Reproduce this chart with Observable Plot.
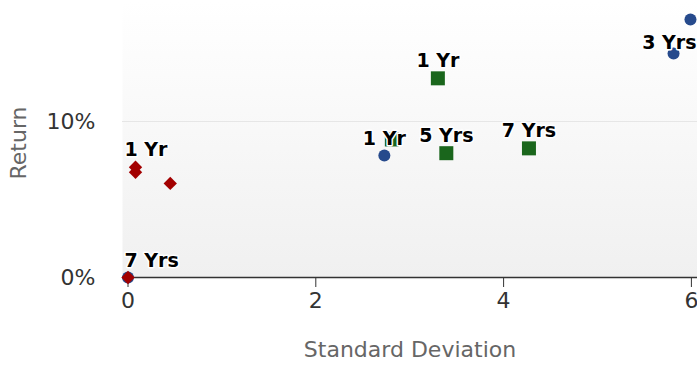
<!DOCTYPE html>
<html><head><meta charset="utf-8">
<script src="https://cdn.jsdelivr.net/npm/d3@7"></script>
<script src="https://cdn.jsdelivr.net/npm/@observablehq/plot@0.6"></script>
<style>body{margin:0;background:#fff}</style>
</head><body><div id="chart"></div>
<script>
// Data (x = standard deviation, y = return in %)
const blueX = [0, 2.73, 5.81, 5.99];
const blueY = [0, 7.82, 14.36, 16.54];
const blueLabels = ["", "1 Yr", "3 Yrs", ""];
const greenX = [2.81, 3.30, 3.39, 4.27];
const greenY = [8.85, 12.77, 7.97, 8.28];
const greenLabels = ["", "1 Yr", "5 Yrs", "7 Yrs"];
const redX = [0.08, 0.08, 0.45, 0];
const redY = [7.07, 6.75, 6.03, 0];
const redLabels = ["1 Yr", "", "", "7 Yrs"];
const xTicks = [0, 2, 4, 6];
const yTicks = [0, 10];
const xTitle = "Standard Deviation";
const yTitle = "Return";

const toRows = (xs, ys, ls, s) => xs.map((x, i) => ({x, y: ys[i], label: ls[i], series: s}));
const blue = toRows(blueX, blueY, blueLabels, "blue");
const green = toRows(greenX, greenY, greenLabels, "green");
const red = toRows(redX, redY, redLabels, "red");
const all = [...blue, ...green, ...red].filter(d => d.label);

const xDomain = [-0.0586, 6.065];
const yDomain = [0, 17.76];
const leftLabels = all.filter(d => d.x < 0.3);
const rightLabels = all.filter(d => d.x > 5.5);
const midLabels = all.filter(d => d.x >= 0.3 && d.x <= 5.5);

const labelStyle = {fontSize: 19, fontWeight: "bold", fill: "#000", stroke: "white", strokeWidth: 3, lineAnchor: "bottom", text: "label", y: "y"};

const svg = Plot.plot({
  width: 697, height: 365,
  marginLeft: 122, marginRight: 0, marginTop: 0, marginBottom: 88,
  x: {domain: xDomain},
  y: {domain: yDomain},
  style: {fontFamily: "DejaVu Sans", fontSize: "22px", background: "#fff"},
  marks: [
    Plot.frame({fill: "url(#bg)", stroke: "none"}),
    Plot.ruleY([10], {stroke: "#e6e6e6", strokeWidth: 1}),
    Plot.axisY({ticks: yTicks, tickSize: 0, tickPadding: 27, tickFormat: d => d + "%", fontSize: 22, color: "#333", label: null}),
    Plot.axisX({ticks: xTicks, tickSize: 10, tickPadding: 5, tickFormat: d => String(d), fontSize: 22, color: "#333", label: null}),
    Plot.ruleY([0], {stroke: "#333", strokeWidth: 1.5}),
    Plot.text([xTitle], {frameAnchor: "bottom", textAnchor: "middle", dy: 79, fill: "#666", fontSize: 22}),
    Plot.text([yTitle], {frameAnchor: "left", textAnchor: "middle", dx: -104, dy: 4, rotate: -90, fill: "#666", fontSize: 22}),
    Plot.dot(blue, {x: "x", y: "y", r: 6, symbol: "circle", fill: "#264a8c"}),
    Plot.dot(green, {x: "x", y: "y", r: 7.9, symbol: "square", fill: "#1a661c"}),
    Plot.dot(red, {x: "x", y: "y", r: 6, symbol: "diamond2", fill: "#a30000"}),
    Plot.text(midLabels, {...labelStyle, x: "x", dy: -11, textAnchor: "middle"}),
    Plot.text(leftLabels, {...labelStyle, x: () => xDomain[0], dx: 2, dy: -11, textAnchor: "start"}),
    Plot.text(rightLabels, {...labelStyle, x: () => xDomain[1], dx: -1, dy: -5, textAnchor: "end"})
  ]
});
const ns = "http://www.w3.org/2000/svg";
const defs = document.createElementNS(ns, "defs");
defs.innerHTML = '<linearGradient id="bg" x1="0" y1="0" x2="0" y2="1"><stop offset="0" stop-color="#ffffff"/><stop offset="1" stop-color="#f0f0f0"/></linearGradient>';
svg.prepend(defs);
svg.querySelectorAll("text").forEach(t => t.setAttribute("paint-order", "stroke"));
document.getElementById("chart").appendChild(svg);
</script>
</body></html>
